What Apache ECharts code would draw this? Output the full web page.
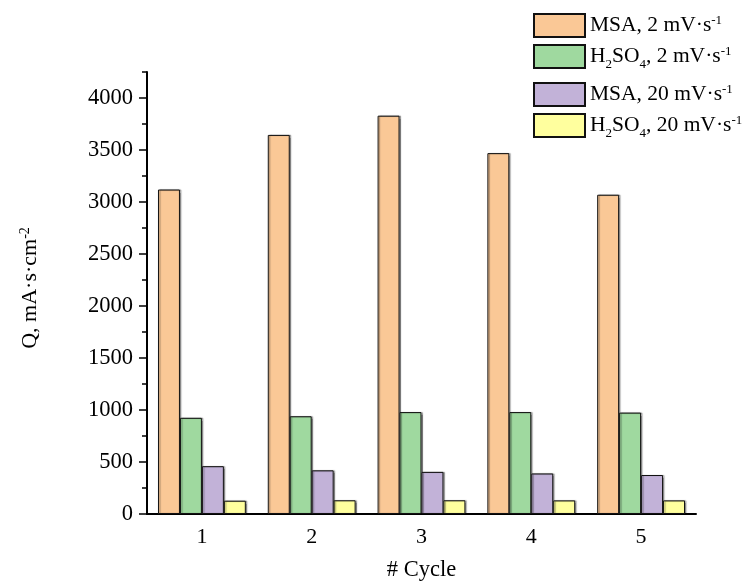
<!DOCTYPE html>
<html>
<head>
<meta charset="utf-8">
<script src="https://cdn.jsdelivr.net/npm/echarts@6/dist/echarts.min.js"></script>
<style>
  html, body { margin: 0; padding: 0; background: #fff; }
  #chart { width: 753px; height: 583px; }
</style>
</head>
<body>
<div id="chart"></div>
<script>
// Cycle numbers on the x axis
const cycles = ['1', '2', '3', '4', '5'];

// Integrated charge Q (mA·s·cm^-2) per cycle
const msa2 = [3120, 3645, 3830, 3470, 3070];
const h2so4_2 = [925, 940, 980, 980, 975];
const msa20 = [460, 420, 405, 390, 375];
const h2so4_20 = [128, 132, 132, 131, 131];

// Labelled y-axis ticks
const yTicks = [0, 500, 1000, 1500, 2000, 2500, 3000, 3500, 4000];
const yMax = 4250;

const FONT = 'Liberation Serif, Times New Roman, serif';

const seriesNames = [
  'MSA, 2 mV·s-1',
  'H2SO4, 2 mV·s-1',
  'MSA, 20 mV·s-1',
  'H2SO4, 20 mV·s-1'
];
const legendRich = {
  'MSA, 2 mV·s-1': 'MSA, 2 mV·s{sup|-1}',
  'H2SO4, 2 mV·s-1': 'H{sub|2}SO{sub|4}, 2 mV·s{sup|-1}',
  'MSA, 20 mV·s-1': 'MSA, 20 mV·s{sup|-1}',
  'H2SO4, 20 mV·s-1': 'H{sub|2}SO{sub|4}, 20 mV·s{sup|-1}'
};
const colors = ['#FAC896', '#9FD99F', '#C2B2D8', '#FFFF9E'];
const values = [msa2, h2so4_2, msa20, h2so4_20];

const richStyles = {
  sup: { fontSize: 13, fontFamily: FONT, color: '#000', verticalAlign: 'top', lineHeight: 22 },
  sub: { fontSize: 13, fontFamily: FONT, color: '#000', verticalAlign: 'bottom', lineHeight: 22, padding: [0, 0, -4, 0] }
};

const chart = echarts.init(document.getElementById('chart'), null, { renderer: 'canvas' });

function legendBlock(top, names) {
  return {
    data: names,
    orient: 'vertical',
    left: 533,
    top: top,
    padding: 0,
    icon: 'rect',
    itemWidth: 51,
    itemHeight: 23,
    itemGap: 6,
    selectedMode: false,
    formatter: n => legendRich[n],
    textStyle: {
      fontFamily: FONT,
      fontSize: 21.5,
      color: '#000',
      lineHeight: 22,
      rich: richStyles
    }
  };
}

const option = {
  animation: false,
  backgroundColor: '#fff',
  color: colors,
  grid: { left: 147, right: 57, top: 72, bottom: 69, outerBoundsMode: 'none' },
  legend: [
    legendBlock(13, seriesNames.slice(0, 2)),
    legendBlock(82, seriesNames.slice(2, 4))
  ],
  xAxis: [
    {
      type: 'category',
      data: cycles,
      boundaryGap: true,
      axisLine: { lineStyle: { color: '#000', width: 2 } },
      axisTick: { length: 5, lineStyle: { color: '#000', width: 2 } },
      axisLabel: { fontFamily: FONT, fontSize: 22, color: '#000', margin: 12 },
      name: '# Cycle',
      nameLocation: 'middle',
      nameGap: 45,
      nameTextStyle: { fontFamily: FONT, fontSize: 22.5, color: '#000' }
    },
    {
      // ticks at the category centres
      type: 'category',
      data: cycles,
      position: 'bottom',
      axisLine: { show: false },
      axisTick: { alignWithLabel: true, length: 5, lineStyle: { color: '#000', width: 2 } },
      axisLabel: { show: false }
    }
  ],
  yAxis: [
    {
      type: 'value',
      min: 0,
      max: yMax,
      interval: 250,
      splitLine: { show: false },
      axisLine: { show: true, lineStyle: { color: '#000', width: 2 } },
      axisTick: { show: true, length: 5, lineStyle: { color: '#000', width: 1.5 } },
      axisLabel: { show: false }
    },
    {
      // major ticks with labels
      type: 'value',
      min: 0,
      max: yMax,
      position: 'left',
      splitLine: { show: false },
      axisLine: { show: false },
      axisTick: { show: true, length: 8, customValues: yTicks, lineStyle: { color: '#000', width: 1.5 } },
      axisLabel: {
        customValues: yTicks,
        formatter: v => String(v),
        fontFamily: FONT,
        fontSize: 22.5,
        color: '#000',
        margin: 14
      }
    }
  ],
  graphic: [
    {
      type: 'text',
      x: 30,
      y: 288,
      rotation: Math.PI / 2,
      style: {
        text: 'Q, mA·s·cm{sup|-2}',
        fontFamily: FONT,
        fontSize: 22,
        fill: '#000',
        align: 'center',
        verticalAlign: 'middle',
        lineHeight: 24,
        rich: {
          sup: { fontSize: 14, fontFamily: FONT, fill: '#000', verticalAlign: 'top', lineHeight: 24 }
        }
      }
    }
  ],
  series: seriesNames.map((name, i) => ({
    name: name,
    type: 'bar',
    xAxisIndex: 0,
    yAxisIndex: 0,
    data: values[i],
    barGap: '0%',
    barCategoryGap: '20%',
    itemStyle: {
      color: colors[i],
      borderColor: '#111',
      borderWidth: 1,
      shadowColor: 'rgba(0,0,0,0.35)',
      shadowOffsetX: 1.5,
      shadowBlur: 1
    }
  }))
};

chart.setOption(option);
</script>
</body>
</html>
